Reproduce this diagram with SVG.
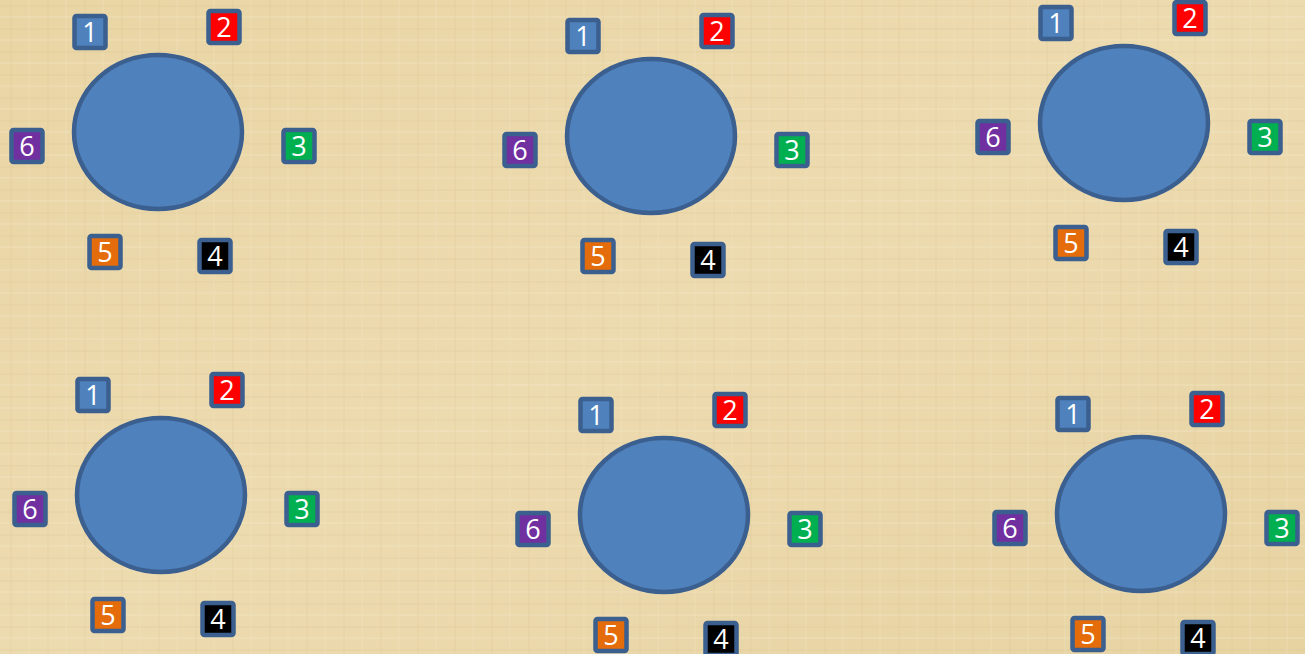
<svg xmlns="http://www.w3.org/2000/svg" width="1305" height="654" viewBox="0 0 1305 654">
<style>
.tbl{fill:#4f81bd;stroke:#3b5f8f;stroke-width:4.5}
.bx{stroke:#3b5f8f;stroke-width:4.5}
.n{font-family:"Open Sans","Liberation Sans",sans-serif;font-size:27px;fill:#ffffff;text-anchor:middle}
.c1{fill:#4f81bd}.c2{fill:#ff0000}.c3{fill:#00b050}.c4{fill:#000000}.c5{fill:#e46c0a}.c6{fill:#7030a0}
</style>
<defs>
<linearGradient id="bgG" x1="0" y1="0" x2="1" y2="1">
<stop offset="0" stop-color="#e9d5a4"/>
<stop offset="0.5" stop-color="#eddbb0"/>
<stop offset="1" stop-color="#e7d3a2"/>
</linearGradient>
<pattern id="tex" width="37" height="23" patternUnits="userSpaceOnUse">
<rect x="0" y="0" width="37" height="23" fill="none"/>
<line x1="0" y1="6" x2="37" y2="6" stroke="#d9c18e" stroke-width="1" opacity="0.35"/>
<line x1="0" y1="17" x2="37" y2="17" stroke="#f5e8c8" stroke-width="1.5" opacity="0.35"/>
<line x1="11" y1="0" x2="11" y2="23" stroke="#d6bd88" stroke-width="1" opacity="0.3"/>
<line x1="29" y1="0" x2="29" y2="23" stroke="#f3e4c0" stroke-width="1.5" opacity="0.3"/>
</pattern>
</defs>
<rect id="background" x="0" y="0" width="1305" height="654" fill="url(#bgG)"/>
<rect x="0" y="0" width="1305" height="654" fill="url(#tex)"/>

<!-- Group 1 top-left -->
<g id="set1">
<g id="set1-table"><ellipse class="tbl" cx="158" cy="132" rx="84" ry="77"/></g>
<g id="set1-seat1" transform="translate(90,32)"><rect class="bx c1" x="-15.5" y="-16" width="31" height="32" rx="2"/><text class="n" x="0" y="10">1</text></g>
<g id="set1-seat2" transform="translate(224,27)"><rect class="bx c2" x="-15.5" y="-16" width="31" height="32" rx="2"/><text class="n" x="0" y="10">2</text></g>
<g id="set1-seat3" transform="translate(299,146)"><rect class="bx c3" x="-15.5" y="-16" width="31" height="32" rx="2"/><text class="n" x="0" y="10">3</text></g>
<g id="set1-seat4" transform="translate(215,256)"><rect class="bx c4" x="-15.5" y="-16" width="31" height="32" rx="2"/><text class="n" x="0" y="10">4</text></g>
<g id="set1-seat5" transform="translate(105,252)"><rect class="bx c5" x="-15.5" y="-16" width="31" height="32" rx="2"/><text class="n" x="0" y="10">5</text></g>
<g id="set1-seat6" transform="translate(27,146)"><rect class="bx c6" x="-15.5" y="-16" width="31" height="32" rx="2"/><text class="n" x="0" y="10">6</text></g>
</g>

<!-- Group 2 top-middle -->
<g id="set2">
<g id="set2-table"><ellipse class="tbl" cx="651" cy="136" rx="84" ry="77"/></g>
<g id="set2-seat1" transform="translate(583,36)"><rect class="bx c1" x="-15.5" y="-16" width="31" height="32" rx="2"/><text class="n" x="0" y="10">1</text></g>
<g id="set2-seat2" transform="translate(717,31)"><rect class="bx c2" x="-15.5" y="-16" width="31" height="32" rx="2"/><text class="n" x="0" y="10">2</text></g>
<g id="set2-seat3" transform="translate(792,150)"><rect class="bx c3" x="-15.5" y="-16" width="31" height="32" rx="2"/><text class="n" x="0" y="10">3</text></g>
<g id="set2-seat4" transform="translate(708,260)"><rect class="bx c4" x="-15.5" y="-16" width="31" height="32" rx="2"/><text class="n" x="0" y="10">4</text></g>
<g id="set2-seat5" transform="translate(598,256)"><rect class="bx c5" x="-15.5" y="-16" width="31" height="32" rx="2"/><text class="n" x="0" y="10">5</text></g>
<g id="set2-seat6" transform="translate(520,150)"><rect class="bx c6" x="-15.5" y="-16" width="31" height="32" rx="2"/><text class="n" x="0" y="10">6</text></g>
</g>

<!-- Group 3 top-right -->
<g id="set3">
<g id="set3-table"><ellipse class="tbl" cx="1124" cy="123" rx="84" ry="77"/></g>
<g id="set3-seat1" transform="translate(1056,23)"><rect class="bx c1" x="-15.5" y="-16" width="31" height="32" rx="2"/><text class="n" x="0" y="10">1</text></g>
<g id="set3-seat2" transform="translate(1190,18)"><rect class="bx c2" x="-15.5" y="-16" width="31" height="32" rx="2"/><text class="n" x="0" y="10">2</text></g>
<g id="set3-seat3" transform="translate(1265,137)"><rect class="bx c3" x="-15.5" y="-16" width="31" height="32" rx="2"/><text class="n" x="0" y="10">3</text></g>
<g id="set3-seat4" transform="translate(1181,247)"><rect class="bx c4" x="-15.5" y="-16" width="31" height="32" rx="2"/><text class="n" x="0" y="10">4</text></g>
<g id="set3-seat5" transform="translate(1071,243)"><rect class="bx c5" x="-15.5" y="-16" width="31" height="32" rx="2"/><text class="n" x="0" y="10">5</text></g>
<g id="set3-seat6" transform="translate(993,137)"><rect class="bx c6" x="-15.5" y="-16" width="31" height="32" rx="2"/><text class="n" x="0" y="10">6</text></g>
</g>

<!-- Group 4 bottom-left -->
<g id="set4">
<g id="set4-table"><ellipse class="tbl" cx="161" cy="495" rx="84" ry="77"/></g>
<g id="set4-seat1" transform="translate(93,395)"><rect class="bx c1" x="-15.5" y="-16" width="31" height="32" rx="2"/><text class="n" x="0" y="10">1</text></g>
<g id="set4-seat2" transform="translate(227,390)"><rect class="bx c2" x="-15.5" y="-16" width="31" height="32" rx="2"/><text class="n" x="0" y="10">2</text></g>
<g id="set4-seat3" transform="translate(302,509)"><rect class="bx c3" x="-15.5" y="-16" width="31" height="32" rx="2"/><text class="n" x="0" y="10">3</text></g>
<g id="set4-seat4" transform="translate(218,619)"><rect class="bx c4" x="-15.5" y="-16" width="31" height="32" rx="2"/><text class="n" x="0" y="10">4</text></g>
<g id="set4-seat5" transform="translate(108,615)"><rect class="bx c5" x="-15.5" y="-16" width="31" height="32" rx="2"/><text class="n" x="0" y="10">5</text></g>
<g id="set4-seat6" transform="translate(30,509)"><rect class="bx c6" x="-15.5" y="-16" width="31" height="32" rx="2"/><text class="n" x="0" y="10">6</text></g>
</g>

<!-- Group 5 bottom-middle -->
<g id="set5">
<g id="set5-table"><ellipse class="tbl" cx="664" cy="515" rx="84" ry="77"/></g>
<g id="set5-seat1" transform="translate(596,415)"><rect class="bx c1" x="-15.5" y="-16" width="31" height="32" rx="2"/><text class="n" x="0" y="10">1</text></g>
<g id="set5-seat2" transform="translate(730,410)"><rect class="bx c2" x="-15.5" y="-16" width="31" height="32" rx="2"/><text class="n" x="0" y="10">2</text></g>
<g id="set5-seat3" transform="translate(805,529)"><rect class="bx c3" x="-15.5" y="-16" width="31" height="32" rx="2"/><text class="n" x="0" y="10">3</text></g>
<g id="set5-seat4" transform="translate(721,639)"><rect class="bx c4" x="-15.5" y="-16" width="31" height="32" rx="2"/><text class="n" x="0" y="10">4</text></g>
<g id="set5-seat5" transform="translate(611,635)"><rect class="bx c5" x="-15.5" y="-16" width="31" height="32" rx="2"/><text class="n" x="0" y="10">5</text></g>
<g id="set5-seat6" transform="translate(533,529)"><rect class="bx c6" x="-15.5" y="-16" width="31" height="32" rx="2"/><text class="n" x="0" y="10">6</text></g>
</g>

<!-- Group 6 bottom-right -->
<g id="set6">
<g id="set6-table"><ellipse class="tbl" cx="1141" cy="514" rx="84" ry="77"/></g>
<g id="set6-seat1" transform="translate(1073,414)"><rect class="bx c1" x="-15.5" y="-16" width="31" height="32" rx="2"/><text class="n" x="0" y="10">1</text></g>
<g id="set6-seat2" transform="translate(1207,409)"><rect class="bx c2" x="-15.5" y="-16" width="31" height="32" rx="2"/><text class="n" x="0" y="10">2</text></g>
<g id="set6-seat3" transform="translate(1282,528)"><rect class="bx c3" x="-15.5" y="-16" width="31" height="32" rx="2"/><text class="n" x="0" y="10">3</text></g>
<g id="set6-seat4" transform="translate(1198,638)"><rect class="bx c4" x="-15.5" y="-16" width="31" height="32" rx="2"/><text class="n" x="0" y="10">4</text></g>
<g id="set6-seat5" transform="translate(1088,634)"><rect class="bx c5" x="-15.5" y="-16" width="31" height="32" rx="2"/><text class="n" x="0" y="10">5</text></g>
<g id="set6-seat6" transform="translate(1010,528)"><rect class="bx c6" x="-15.5" y="-16" width="31" height="32" rx="2"/><text class="n" x="0" y="10">6</text></g>
</g>
</svg>
